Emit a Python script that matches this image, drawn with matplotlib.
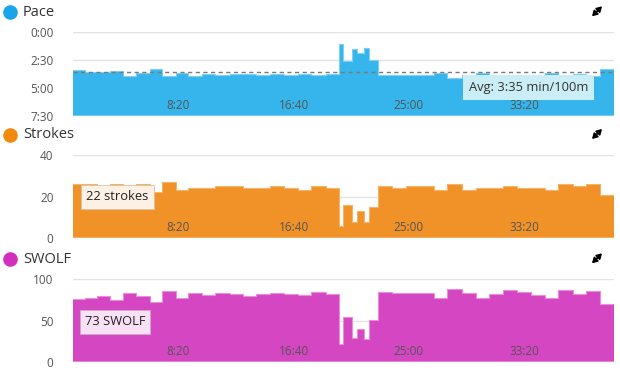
import numpy as np
import matplotlib
matplotlib.use("Agg")
import matplotlib.pyplot as plt
from matplotlib.lines import Line2D

plt.rcParams['font.family'] = ['Open Sans', 'DejaVu Sans']

# lap durations in seconds (read from step widths), first lap starts at 0:43
start = 43
durations = [51, 55, 56, 55, 58, 58, 53, 59, 56, 59, 58, 61, 58, 58, 61, 58, 62, 58,
             62, 58, 17, 38, 25, 29, 22, 39, 61, 59, 61, 61, 58, 62, 61, 58, 59, 63,
             62, 58, 58, 62, 58, 61, 61]
# pace per lap, seconds per 100m
pace = [202, 216, 213, 210, 233, 220, 197, 236, 217, 233, 226, 230, 226, 224, 228, 226,
        228, 226, 232, 226, 62, 153, 88, 109, 84, 147, 230, 228, 230, 228, 219, 246,
        232, 218, 228, 240, 236, 228, 220, 238, 226, 234, 196]
strokes = [26, 26, 24, 26, 24, 26, 22, 27, 23, 24, 24, 25, 25, 24, 24, 25, 24, 23,
           25, 24, 6, 16, 8, 13, 8, 15, 25, 24, 25, 25, 23, 26, 23, 24, 24, 25,
           24, 24, 23, 26, 25, 26, 21]
swolf = [76, 77, 80, 75, 84, 80, 73, 86, 78, 83, 81, 84, 82, 80, 82, 83, 82, 81,
         85, 82, 22, 54, 29, 40, 28, 51, 85, 83, 84, 84, 78, 88, 83, 78, 82, 87,
         85, 81, 78, 87, 82, 86, 70]
avg_pace = 215

xticks = [500, 1000, 1500, 2000]
xlabels = ['8:20', '16:40', '25:00', '33:20']

edges = start + np.concatenate([[0], np.cumsum(durations)])

W, H = 620, 371
fig = plt.figure(figsize=(6.2, 3.71), dpi=100)

tick_col = '#555555'
grid_col = '#e3e3e3'


def panel(top_px, bottom_px, title, color, dot, edge_col, vals, yticks, ylabels, ylim, base):
    ax = fig.add_axes([73 / W, 1 - bottom_px / H, 541 / W, (bottom_px - top_px) / H])
    ext = np.append(vals, vals[-1])
    ax.fill_between(edges, ext, base, step='post', color=color, lw=0, zorder=1)
    ax.step(edges, ext, where='post', color=edge_col, lw=0.8, zorder=1.5)
    for y in yticks:
        ax.axhline(y, color=grid_col, lw=1, zorder=0)
    ax.axhline(base, color=edge_col, lw=1.2, zorder=1.6)
    ax.set_xlim(edges[0], edges[-1])
    ax.set_ylim(*ylim)
    ax.set_yticks(yticks)
    ax.set_yticklabels(ylabels)
    ax.tick_params(axis='y', length=0, pad=14, labelsize=8.5, labelcolor=tick_col)
    ax.set_xticks([])
    for x, lab in zip(xticks, xlabels):
        ax.text(x, 0.13, lab, transform=ax.get_xaxis_transform(), ha='center',
                va='center', fontsize=8.5, color=tick_col, zorder=5)
    for s in ax.spines.values():
        s.set_visible(False)
    ax.set_facecolor('none')
    # title with coloured dot
    ty = 1 - (top_px - 20) / H
    fig.add_artist(Line2D([10 / W], [ty], marker='o', markersize=9.5, color=dot,
                          transform=fig.transFigure))
    fig.text(23 / W, ty, title, fontsize=10.5, color='#333333', va='center', ha='left')
    # expand icon
    cy = H - (top_px - 21)
    for dx in (1, -1):
        ax.annotate('', xy=(597 + 5 * dx, cy + 5 * dx), xytext=(597, cy),
                    xycoords='figure pixels', textcoords='figure pixels',
                    arrowprops=dict(arrowstyle='-|>,head_width=0.18,head_length=0.3',
                                    color='black', lw=1.2, shrinkA=0, shrinkB=0))
    return ax


ax1 = panel(32.3, 116, 'Pace', '#35b5ec', '#1aa5ea', '#7fd0f3', pace,
            [0, 150, 300, 450], ['0:00', '2:30', '5:00', '7:30'], (450, 0), 450)
ax1.axhline(avg_pace, color='#7a7a7a', lw=1, ls=(0, (3, 2.5)), zorder=3)
ax1.text(0.842, 0.34, 'Avg: 3:35 min/100m', transform=ax1.transAxes, ha='center',
         va='center', fontsize=9.3, color='#333333', zorder=6,
         bbox=dict(boxstyle='square,pad=0.45', fc='#cbedf5', ec='none'))

ax2 = panel(155, 238.3, 'Strokes', '#f09228', '#f28a0e', '#f5b36a', strokes,
            [0, 20, 40], ['0', '20', '40'], (0, 40), 0)
ax2.text(0.082, 0.496, '22 strokes', transform=ax2.transAxes, ha='center',
         va='center', fontsize=9.3, color='#222222', zorder=6,
         bbox=dict(boxstyle='square,pad=0.4', fc='#fdf1e6', ec='#d9c2ad', lw=0.6))

ax3 = panel(279.3, 362.3, 'SWOLF', '#d546c2', '#d22fbd', '#e98ddd', swolf,
            [0, 50, 100], ['0', '50', '100'], (0, 100), 0)
ax3.text(0.0776, 0.486, '73 SWOLF', transform=ax3.transAxes, ha='center',
         va='center', fontsize=9.3, color='#222222', zorder=6,
         bbox=dict(boxstyle='square,pad=0.4', fc='#f9e1f5', ec='#cfa9c9', lw=0.6))

fig.savefig('out.png', dpi=100)
